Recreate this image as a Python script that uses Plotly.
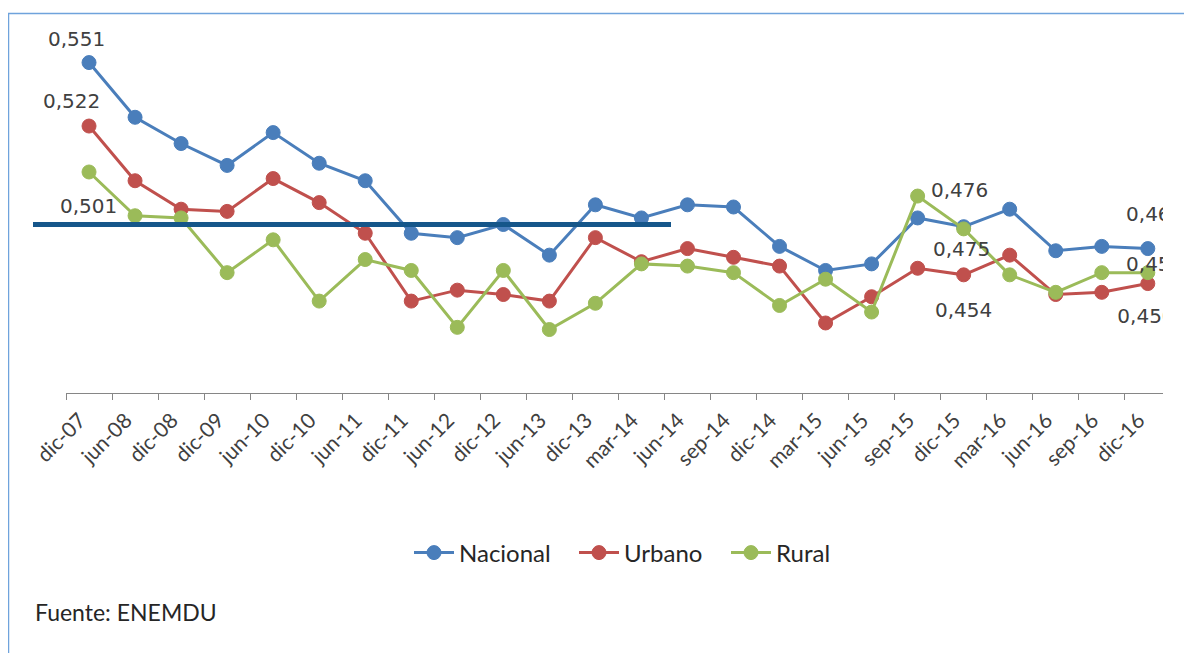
import plotly.graph_objects as go

categories = ["dic-07", "jun-08", "dic-08", "dic-09", "jun-10", "dic-10", "jun-11", "dic-11",
              "jun-12", "dic-12", "jun-13", "dic-13", "mar-14", "jun-14", "sep-14", "dic-14",
              "mar-15", "jun-15", "sep-15", "dic-15", "mar-16", "jun-16", "sep-16", "dic-16"]

nacional = [0.551, 0.526, 0.514, 0.504, 0.519, 0.505, 0.497, 0.473, 0.471, 0.477, 0.463, 0.486,
            0.480, 0.486, 0.485, 0.467, 0.456, 0.459, 0.480, 0.476, 0.484, 0.465, 0.467, 0.466]
urbano = [0.522, 0.497, 0.484, 0.483, 0.498, 0.487, 0.473, 0.442, 0.447, 0.445, 0.442, 0.471,
          0.460, 0.466, 0.462, 0.458, 0.432, 0.444, 0.457, 0.454, 0.463, 0.445, 0.446, 0.450]
rural = [0.501, 0.481, 0.480, 0.455, 0.470, 0.442, 0.461, 0.456, 0.430, 0.456, 0.429, 0.441,
         0.459, 0.458, 0.455, 0.440, 0.452, 0.437, 0.490, 0.475, 0.454, 0.446, 0.455, 0.455]

series_names = ["Nacional", "Urbano", "Rural"]
series_colors = ["#4A7EBB", "#C0504D", "#9BBB59"]

# labelled points: (series index, category index, dx in categories, dy in value units)
free_labels = [
    (0, 0, -0.28, 0.0108),
    (1, 0, -0.39, 0.0114),
    (2, 0, -0.02, -0.0155),
    (0, 19, -0.09, 0.0169),
    (2, 19, -0.04, -0.0091),
    (1, 19, 0.0, -0.0160),
]
clipped_labels = [
    (0, 23, 0.15, 0.0151),
    (2, 23, 0.15, 0.0032),
    (1, 23, -0.04, -0.0155),
]

ref_line_value = 0.477

OFF = 8  # page body margin offset
W, H = 1192 - OFF, 653 - OFF
L, R, T = 66 - OFF, 29, 21 - OFF
B = H - (393 - OFF)
PW = W - L - R
PH = H - T - B
X_RANGE = [-0.5, 23.33]
LABEL_SHIFT = 0.2  # tick labels sit slightly left of the category centre
Y_RANGE = [0.40, 0.57]
LABEL_FONT = dict(family="DejaVu Sans", size=20, color="#404040")
LEGEND_X = [413, 578, 730]


def px_x(px):
    return (px - OFF - L) / PW


def px_y(py):
    return (H - B - (py - OFF)) / PH


def fmt(v):
    return f"{v:.3f}".replace(".", ",")


fig = go.Figure()
all_series = [nacional, urbano, rural]
legend_ids = ["legend", "legend2", "legend3"]
for name, vals, col, lg in zip(series_names, all_series, series_colors, legend_ids):
    fig.add_trace(go.Scatter(
        x=categories, y=vals, name=name, mode="lines+markers",
        line=dict(color=col, width=3),
        marker=dict(color=col, size=14, line=dict(color=col, width=1)),
        hoverinfo="x+y+name", legend=lg,
    ))

# invisible carrier trace so the tick-label axis is drawn
fig.add_trace(go.Scatter(
    x=list(range(len(categories))), y=nacional, mode="markers",
    marker=dict(size=1, opacity=0), xaxis="x3", yaxis="y",
    showlegend=False, hoverinfo="skip",
))

for s, i, dx, dy in free_labels:
    v = all_series[s][i]
    fig.add_annotation(x=i + dx, y=v + dy, xref="x2", yref="y", text=fmt(v),
                       showarrow=False, font=LABEL_FONT, xanchor="center", yanchor="middle")

lx, ly, lt = [], [], []
for s, i, dx, dy in clipped_labels:
    v = all_series[s][i]
    lx.append(i + dx)
    ly.append(v + dy)
    lt.append(fmt(v))

fig.add_trace(go.Scatter(
    x=lx, y=ly, text=lt, mode="text", textposition="middle center",
    textfont=LABEL_FONT,
    xaxis="x2", yaxis="y", showlegend=False, hoverinfo="skip", cliponaxis=True,
))

fig.add_shape(type="line", xref="paper", yref="y",
              x0=px_x(33), x1=px_x(671), y0=ref_line_value, y1=ref_line_value,
              line=dict(color="#15568A", width=5))

# outer frame (left and top edges visible)
fig.add_shape(type="rect", xref="paper", yref="paper",
              x0=px_x(8.5), x1=px_x(1215), y0=px_y(680), y1=px_y(13.5),
              line=dict(color="#6FA3DC", width=1.5), fillcolor="rgba(0,0,0,0)")

fig.add_annotation(text="Fuente: ENEMDU", xref="paper", yref="paper",
                   x=px_x(33), y=px_y(612), xanchor="left", yanchor="middle",
                   showarrow=False, font=dict(family="Lato", size=23, color="#262626"))

legend_common = dict(orientation="h", yanchor="middle", xanchor="left", itemwidth=40,
                     font=dict(family="Lato", size=24, color="#262626"),
                     bgcolor="rgba(0,0,0,0)")

fig.update_layout(
    width=W, height=H,
    margin=dict(l=L, r=R, t=T, b=B, autoexpand=False),
    paper_bgcolor="white", plot_bgcolor="white",
    showlegend=True,
    legend=dict(x=px_x(LEGEND_X[0] - 4), y=px_y(553), **legend_common),
    legend2=dict(x=px_x(LEGEND_X[1] - 4), y=px_y(553), **legend_common),
    legend3=dict(x=px_x(LEGEND_X[2] - 4), y=px_y(553), **legend_common),
    xaxis=dict(type="category", range=X_RANGE, tickson="boundaries", ticks="outside",
               ticklen=6, tickcolor="#868686", showline=True, linecolor="#868686", linewidth=1,
               showgrid=False, zeroline=False, automargin=False, showticklabels=False),
    xaxis2=dict(overlaying="x", anchor="y", range=X_RANGE, visible=False),
    xaxis3=dict(overlaying="x", anchor="y", side="bottom", type="linear",
                range=[X_RANGE[0] + LABEL_SHIFT, X_RANGE[1] + LABEL_SHIFT],
                tickmode="array", tickvals=list(range(len(categories))), ticktext=categories,
                ticks="", showline=False, showgrid=False, zeroline=False, automargin=False,
                tickangle=-45, ticklabelstandoff=10,
                tickfont=dict(family="Lato", size=21, color="#404040")),
    yaxis=dict(range=Y_RANGE, visible=False, showgrid=False, zeroline=False, automargin=False),
)

fig.write_html("out.html")
